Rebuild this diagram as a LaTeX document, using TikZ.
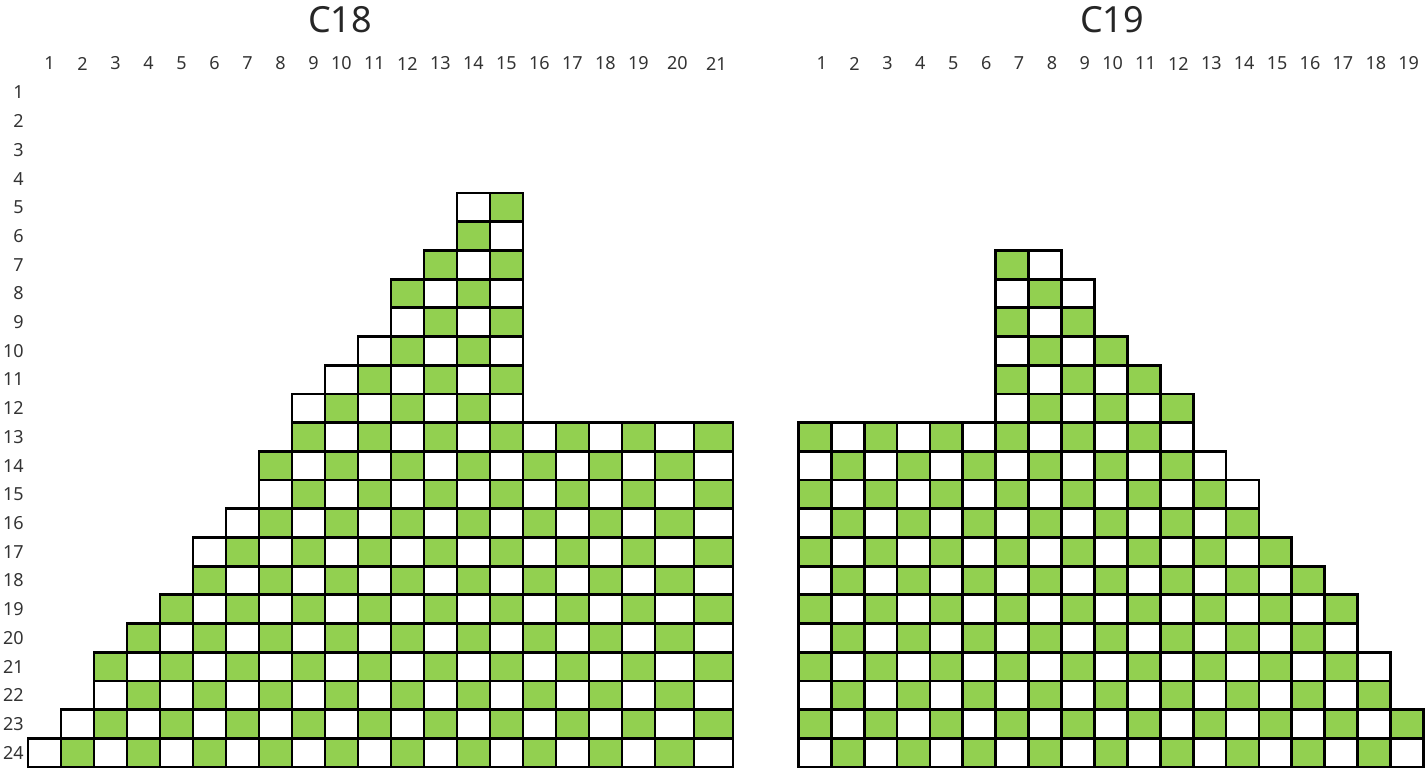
\documentclass[tikz,border=0pt]{standalone}
\usepackage{fontspec}
\setmainfont[Numbers=Lining]{Noto Sans}
\usepackage{tikz}
\definecolor{cellgreen}{RGB}{146,208,80}

\begin{document}
\begin{tikzpicture}[
    x=0.5pt,
    y=-0.5pt,
    cell/.style={
        draw=black,
        line width=1.4pt
    },
    numlabel/.style={
        font=\fontsize{9}{11}\selectfont,
        text=black!80,
        inner sep=0pt,
        anchor=east
    },
    title/.style={
        font=\fontsize{18}{21}\selectfont,
        text=black!85
    }
]

\useasboundingbox (0,0) rectangle (1427,771);

\node[title] (c18) at (340,20) {C18};
\node[title] (c19) at (1112,20) {C19};

\foreach \r in {1,...,24}
    \node[numlabel] (row\r) at (24,{767-(25-\r)*28.7+14.35}) {\r};

\foreach \c in {1,...,21} {
    \pgfmathsetmacro\xr{\c<20 ? 28+33*\c : (\c<21 ? 694 : 733)}
    \node[numlabel] (col18-\c) at (\xr-6,63.5) {\c};
}
\foreach \c in {1,...,19} {
    \pgfmathsetmacro\xr{798.3+32.9*\c}
    \node[numlabel] (col19-\c) at (\xr-4,63.5) {\c};
}

\foreach \r/\a/\b in {5/14/15, 6/14/15, 7/13/15, 8/12/15, 9/12/15, 10/11/15,
    11/10/15, 12/9/15, 13/9/21, 14/8/21, 15/8/21, 16/7/21, 17/6/21, 18/6/21,
    19/5/21, 20/4/21, 21/3/21, 22/3/21, 23/2/21, 24/1/21} {
    \foreach \c in {\a,...,\b} {
        \pgfmathsetmacro\xl{\c<21 ? 28+33*(\c-1) : 694}
        \pgfmathsetmacro\xr{\c<20 ? \xl+33 : \xl+39}
        \pgfmathsetmacro\yt{767-(25-\r)*28.7}
        \pgfmathtruncatemacro\s{\r+\c}
        \ifodd\s \def\cellfill{white}\else \def\cellfill{cellgreen}\fi
        \draw[cell, fill=\cellfill] (\xl,\yt) rectangle (\xr,\yt+28.7);
    }
}

\foreach \r/\a/\b in {7/7/8, 8/7/9, 9/7/9, 10/7/10, 11/7/11, 12/7/12,
    13/1/12, 14/1/13, 15/1/14, 16/1/14, 17/1/15, 18/1/16, 19/1/17, 20/1/17,
    21/1/18, 22/1/18, 23/1/19, 24/1/19} {
    \foreach \c in {\a,...,\b} {
        \pgfmathsetmacro\xl{798.3+32.9*(\c-1)}
        \pgfmathsetmacro\yt{767-(25-\r)*28.7}
        \pgfmathtruncatemacro\s{\r+\c}
        \ifodd\s \def\cellfill{white}\else \def\cellfill{cellgreen}\fi
        \draw[cell, fill=\cellfill] (\xl,\yt) rectangle (\xl+32.9,\yt+28.7);
    }
}

\end{tikzpicture}
\end{document}
